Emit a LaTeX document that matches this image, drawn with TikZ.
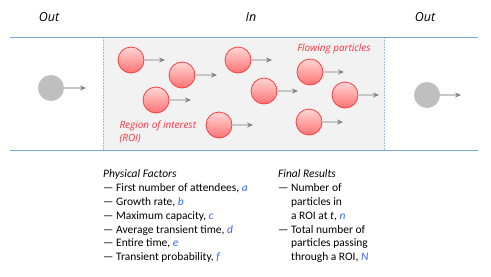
\documentclass[tikz,border=0pt]{standalone}
\usepackage{fontspec}
\setmainfont{Carlito}
\newfontfamily\labfont{Open Sans}
\usetikzlibrary{arrows.meta}
\definecolor{lineblue}{HTML}{79A6DC}
\definecolor{dashblue}{HTML}{9CC0E8}
\definecolor{roigray}{HTML}{F2F2F2}
\definecolor{redtxt}{HTML}{FF3040}
\definecolor{letblue}{HTML}{3366FF}
\definecolor{circred}{HTML}{FF3B3B}
\tikzset{
  particle/.style={circle,draw=circred,line width=0.8bp,minimum size=26bp,inner sep=0pt,
    top color=red!16!white,bottom color=red!55!white},
  graypart/.style={circle,fill=black!25,minimum size=26bp,inner sep=0pt},
  flow/.style={draw=black!22,line width=1.2bp,-{Stealth[length=6bp,width=5bp,inset=2bp,color=black!50]}},
  head/.style={font=\labfont\itshape\fontsize{12.5}{14}\selectfont},
  redlab/.style={font=\labfont\itshape\fontsize{10}{12.5}\selectfont,text=redtxt},
  list/.style={font=\fontsize{11.5}{13.9}\selectfont,align=left,anchor=north west,inner sep=0pt},
}
\newcommand{\bl}[1]{\textcolor{letblue}{\textit{#1}}}
\begin{document}
\begin{tikzpicture}[x=1bp,y=-1bp]
\useasboundingbox (0,0) rectangle (491,276);
\fill[roigray] (103,37) rectangle (384,150);
\draw[dashblue,line width=0.9bp,dash pattern=on 1.5bp off 1.5bp] (103,37) -- (103,150);
\draw[dashblue,line width=0.9bp,dash pattern=on 1.5bp off 1.5bp] (384,37) -- (384,150);
\draw[lineblue,line width=1bp] (10,37) -- (478,37);
\draw[lineblue,line width=1bp] (10,150) -- (478,150);
\node[head] (out1) at (49,17) {Out};
\node[head] (in) at (251,17) {In};
\node[head] (out2) at (425,17) {Out};
% gray particles
\node[graypart] (g1) at (51,88) {};
\coordinate (g1e) at (86,88);
\draw[flow] (g1) -- (g1e);
\node[graypart] (g2) at (427,95) {};
\coordinate (g2e) at (461,95);
\draw[flow] (g2) -- (g2e);
% red particles
\foreach \n/\x/\y/\e in {p1/131/60/165, p2/182/75/217, p3/156/100/191, p4/219/125/253,
  p5/238/60/272, p6/264/91/298, p7/310/72/344, p8/345/95/379, p9/309/122/343}{
  \node[particle] (\n) at (\x,\y) {};
  \coordinate (\n e) at (\e,\y);
  \draw[flow] (\n) -- (\n e);
}
\node[redlab,anchor=center] (flowlab) at (334,49) {Flowing particles};
\node[redlab,align=left,anchor=west] (roilab) at (116,132) {Region of interest\\(ROI)};
% lists
\node[list] (phys) at (103,169.5) {\textit{Physical Factors}\\
--- First number of attendees, \bl{a}\\
--- Growth rate, \bl{b}\\
--- Maximum capacity, \bl{c}\\
--- Average transient time, \bl{d}\\
--- Entire time, \bl{e}\\
--- Transient probability, \bl{f}};
\node[list] (fin) at (278,169.5) {\textit{Final Results}\\
--- Number of\\
\phantom{--- }particles in\\
\phantom{--- }a ROI at \textit{t}, \bl{n}\\
--- Total number of\\
\phantom{--- }particles passing\\
\phantom{--- }through a ROI, \bl{N}};
\end{tikzpicture}
\end{document}
